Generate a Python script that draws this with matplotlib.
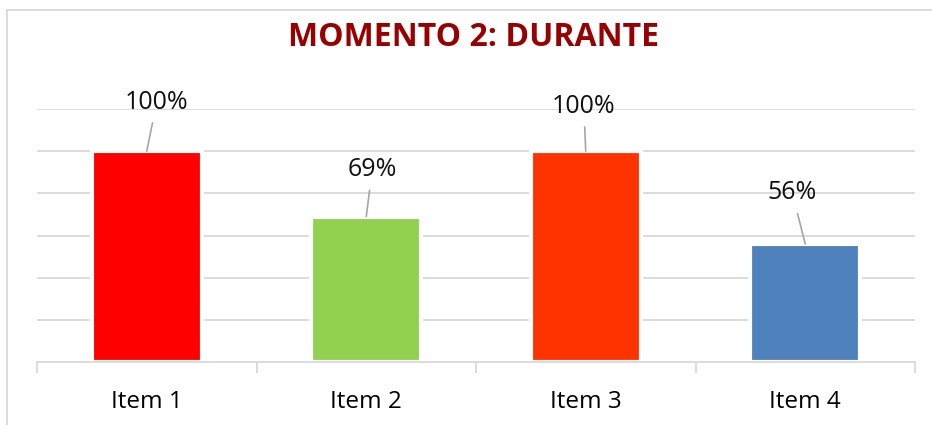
import matplotlib.pyplot as plt
from matplotlib.lines import Line2D

# datos
items = ['Item 1', 'Item 2', 'Item 3', 'Item 4']
valores = [100, 69, 100, 56]
colores = ['#FF0000', '#92D050', '#FF3300', '#4F81BD']
etiquetas = ['100%', '69%', '100%', '56%']
# desplazamiento de cada etiqueta respecto a la barra (pixeles)
desplaz = [(10, 49), (6, 47), (-2, 45), (-13, 51)]

plt.rcParams['font.family'] = ['Open Sans', 'DejaVu Sans']

fig = plt.figure(figsize=(9.32, 4.25), dpi=100)
ax = fig.add_axes([37 / 932, 63 / 425, 878 / 932, 253 / 425])

x = range(len(items))
ax.bar(x, valores, width=0.5, color=colores, edgecolor='white', linewidth=3, zorder=2)

ax.set_xlim(-0.5, len(items) - 0.5)
ax.set_ylim(0, 120)
ax.set_yticks(range(20, 121, 20))
ax.yaxis.grid(True, color='#D9D9D9', linewidth=1.3, zorder=0)
ax.tick_params(axis='y', length=0, labelleft=False)

# ticks del eje x en los limites de categoria
ax.set_xticks([i - 0.5 for i in range(len(items) + 1)], minor=True)
ax.set_xticks(list(x))
ax.set_xticklabels(items, fontsize=17.5)
ax.tick_params(axis='x', which='major', length=0, pad=20)
ax.tick_params(axis='x', which='minor', length=8, color='#D9D9D9', width=1.3)

for s in ['top', 'right', 'left']:
    ax.spines[s].set_visible(False)
ax.spines['bottom'].set_color('#D9D9D9')
ax.spines['bottom'].set_linewidth(1.3)

for i in x:
    ax.annotate(etiquetas[i], xy=(i, valores[i]), xytext=desplaz[i],
                textcoords='offset pixels', ha='center', va='center',
                fontsize=18, color='#111111', zorder=4,
                arrowprops=dict(arrowstyle='-', color='#A6A6A6', lw=1.2,
                                shrinkA=4, shrinkB=0))

fig.text(474 / 932, 1 - 38 / 425, 'MOMENTO 2: DURANTE', ha='center', va='center',
         fontsize=23, fontweight='bold', color='#990000')

# marco del grafico
fig.add_artist(Line2D([7 / 932, 1], [1 - 10 / 425, 1 - 10 / 425], color='#D9D9D9', lw=1.3))
fig.add_artist(Line2D([7 / 932, 7 / 932], [0, 1 - 10 / 425], color='#D9D9D9', lw=1.3))

fig.savefig('out.png', dpi=100)
